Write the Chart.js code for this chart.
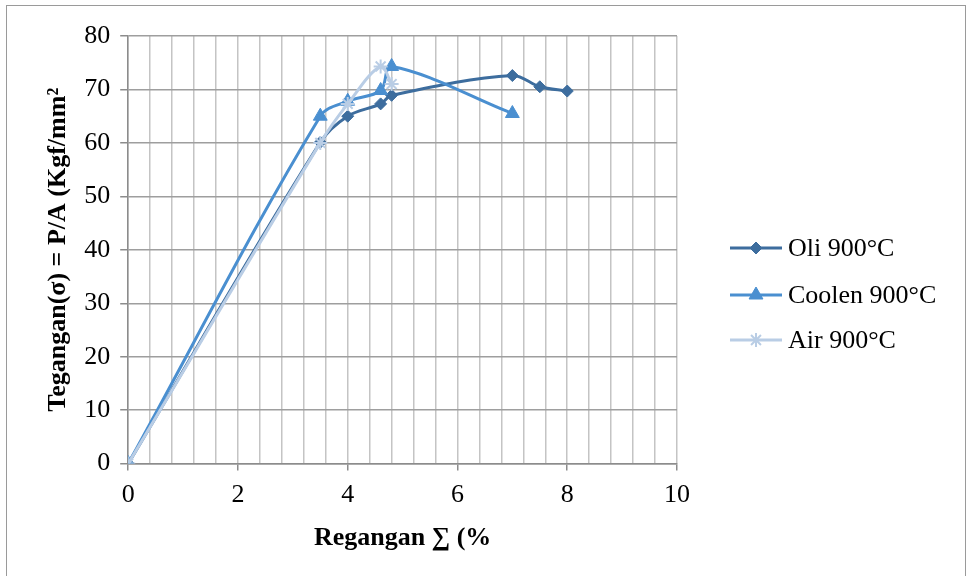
<!DOCTYPE html>
<html>
<head>
<meta charset="utf-8">
<script src="https://cdn.jsdelivr.net/npm/chart.js@4.4.1/dist/chart.umd.min.js"></script>
<style>
  html, body { margin: 0; padding: 0; background: #fff; }
  #wrap { position: relative; width: 966px; height: 576px; overflow: hidden; }
  #frame { position: absolute; left: 6px; top: 5px; width: 958px; height: 600px;
           border: 1px solid #9a9a9a; border-bottom: none; }
  canvas { position: absolute; left: 0; top: 0; }
</style>
</head>
<body>
<div id="wrap">
  <div id="frame"></div>
  <canvas id="chart" width="966" height="576"></canvas>
</div>
<script>
// Data
const oliStrain = [0, 3.5, 4, 4.6, 4.8, 7, 7.5, 8];
const oliStress = [0, 60.1, 65, 67.3, 68.9, 72.6, 70.5, 69.7];
const coolenStrain = [0, 3.5, 4, 4.6, 4.8, 7];
const coolenStress = [0, 65, 67.8, 69.8, 74.3, 65.5];
const airStrain = [0, 3.5, 4, 4.6, 4.8];
const airStress = [0, 60, 67.3, 74.3, 71];

const seriesNames = ['Oli 900°C', 'Coolen 900°C', 'Air 900°C'];
const xTickLabels = [0, 2, 4, 6, 8, 10];

const FONT = "'Liberation Serif', 'Times New Roman', serif";
const FONT_SIZE = 26;

function toPoints(xs, ys) {
  return xs.map((x, i) => ({ x: x, y: ys[i] }));
}

function isLabelTick(v) {
  return xTickLabels.some(t => Math.abs(t - v) < 1e-6);
}

// Legend drawn on the canvas: line + marker + text
const sideLegend = {
  id: 'sideLegend',
  afterDraw(chart) {
    const c = chart.ctx;
    const x0 = 730, x1 = 782;
    const rows = [248, 295, 340];
    chart.data.datasets.forEach((ds, i) => {
      const y = rows[i];
      c.save();
      c.strokeStyle = ds.borderColor;
      c.lineWidth = ds.borderWidth;
      c.beginPath();
      c.moveTo(x0, y);
      c.lineTo(x1, y);
      c.stroke();
      c.fillStyle = ds.pointBackgroundColor;
      c.strokeStyle = ds.pointBorderColor;
      c.lineWidth = ds.pointBorderWidth;
      Chart.helpers.drawPoint(c, {
        pointStyle: ds.pointStyle,
        radius: ds.pointRadius,
        borderWidth: ds.pointBorderWidth
      }, (x0 + x1) / 2, y);
      c.fillStyle = '#000';
      c.font = FONT_SIZE + 'px ' + FONT;
      c.textBaseline = 'middle';
      c.fillText(ds.label, 788, y + 1);
      c.restore();
    });
  }
};

const ctx = document.getElementById('chart').getContext('2d');

const datasets = [
  {
    label: seriesNames[0],
    data: toPoints(oliStrain, oliStress),
    borderColor: '#3d6d9e',
    backgroundColor: '#3d6d9e',
    pointBackgroundColor: '#3d6d9e',
    pointBorderColor: '#3d6d9e',
    pointStyle: 'rectRot',
    pointRadius: 6,
    pointBorderWidth: 1,
    borderWidth: 3,
    order: 2
  },
  {
    label: seriesNames[1],
    data: toPoints(coolenStrain, coolenStress),
    borderColor: '#4a8fd0',
    backgroundColor: '#4a8fd0',
    pointBackgroundColor: '#4a8fd0',
    pointBorderColor: '#4a8fd0',
    pointStyle: 'triangle',
    pointRadius: 8,
    pointBorderWidth: 1,
    borderWidth: 3,
    order: 1
  },
  {
    label: seriesNames[2],
    data: toPoints(airStrain, airStress),
    borderColor: '#b9cde5',
    backgroundColor: '#b9cde5',
    pointBackgroundColor: '#b9cde5',
    pointBorderColor: '#b9cde5',
    pointStyle: 'star',
    pointRadius: 7,
    pointBorderWidth: 2,
    borderWidth: 3,
    order: 0
  }
];

new Chart(ctx, {
  type: 'scatter',
  data: { datasets: datasets },
  options: {
    responsive: false,
    animation: false,
    showLine: true,
    elements: { line: { tension: 0.35 } },
    layout: { padding: { left: 39, top: 36, right: 289, bottom: 22 } },
    plugins: {
      legend: { display: false },
      tooltip: { enabled: false }
    },
    scales: {
      x: {
        type: 'linear',
        min: 0,
        max: 10,
        ticks: {
          stepSize: 0.4,
          autoSkip: false,
          maxRotation: 0,
          color: '#000',
          font: { family: FONT, size: FONT_SIZE },
          padding: 9,
          callback: v => isLabelTick(v) ? String(Math.round(v)) : ''
        },
        grid: {
          color: '#c4c4c4',
          lineWidth: 1.5,
          tickLength: 7,
          tickColor: c => isLabelTick(c.tick.value) ? '#8c8c8c' : 'rgba(0,0,0,0)'
        },
        border: { color: '#8c8c8c', width: 1.5 },
        title: {
          display: true,
          text: 'Regangan ∑ (%',
          color: '#000',
          font: { family: FONT, size: FONT_SIZE, weight: 'bold' },
          padding: { top: 3, bottom: 0 }
        }
      },
      y: {
        type: 'linear',
        min: 0,
        max: 80,
        ticks: {
          stepSize: 10,
          color: '#000',
          font: { family: FONT, size: FONT_SIZE },
          padding: 10
        },
        grid: {
          color: '#9e9e9e',
          lineWidth: 1.5,
          tickLength: 8,
          tickColor: '#8c8c8c'
        },
        border: { color: '#8c8c8c', width: 1.5 },
        title: {
          display: true,
          text: 'Tegangan(σ) = P/A (Kgf/mm²',
          color: '#000',
          font: { family: FONT, size: FONT_SIZE, weight: 'bold' },
          padding: { top: 4, bottom: 0 }
        }
      }
    }
  },
  plugins: [sideLegend]
});
</script>
</body>
</html>
